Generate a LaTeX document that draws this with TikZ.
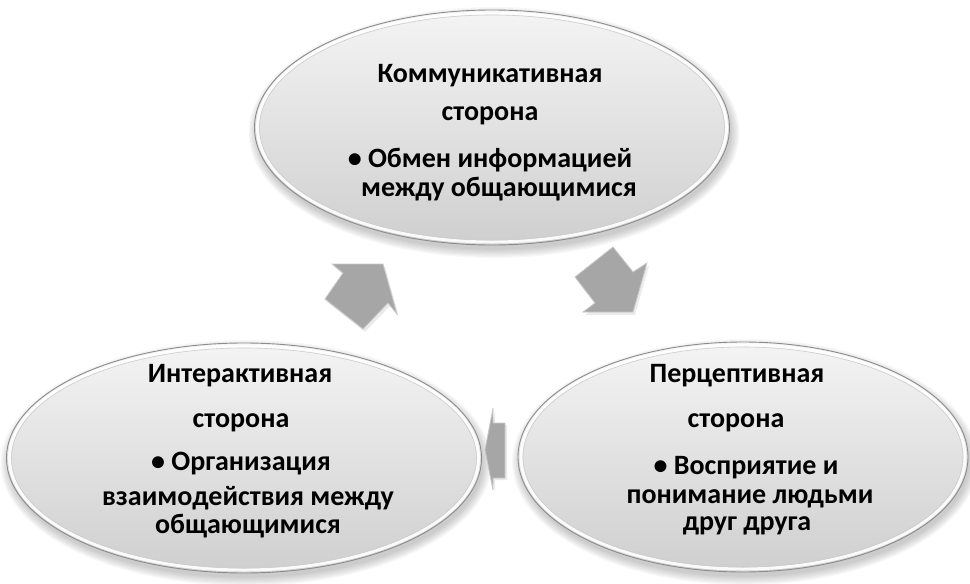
\documentclass[tikz,border=0pt]{standalone}
\usepackage{fontspec}
\setmainfont{Carlito}
\usetikzlibrary{shapes.geometric}
\definecolor{ellTop}{HTML}{F4F4F4}
\definecolor{ellMid}{HTML}{ECECEC}
\definecolor{ellBot}{HTML}{CFCFCF}
\definecolor{rimGray}{HTML}{8C8C8C}
\definecolor{innerGray}{HTML}{CDCDCD}
\definecolor{arrowFill}{HTML}{A6A6A6}
\definecolor{arrowEdge}{HTML}{C8C8C8}
\newcommand{\softshadow}[4]{%
  \foreach \k in {0,1,...,7}{%
    \fill[black, opacity=0.028] (#1+2,#2+5) ellipse [x radius={#3+8-\k*1.2}, y radius={-(#4+8-\k*1.2)}];
  }%
}
\newcommand{\bevel}[4]{%
  \draw[white, line width=3pt, opacity=0.9] (#1,#2) ellipse [x radius={#3-3}, y radius={-(#4-3)}];
  \draw[innerGray, line width=0.6pt] (#1,#2) ellipse [x radius={#3-5}, y radius={-(#4-5)}];
}
\begin{document}
\begin{tikzpicture}[x=1pt,y=-1pt,
  txt/.style={anchor=base, inner sep=0pt, text=black, font=\fontsize{28}{32}\selectfont\bfseries},
  ell/.style={ellipse, draw=rimGray, line width=0.9pt, top color=ellTop, middle color=ellMid, bottom color=ellBot, inner sep=0pt},
  blockarrow/.style={fill=arrowFill, draw=arrowEdge, line width=0.8pt, line join=miter},
  arrowshadow/.style={fill=black, opacity=0.08}
]
\useasboundingbox (0,0) rectangle (970,584);

% ---------- shadows of the ellipses ----------
\softshadow{492}{127.5}{237.5}{117.5}
\softshadow{244}{458}{237.5}{115}
\softshadow{743}{457}{225}{115}

% ---------- ellipses ----------
\node[ell, minimum width=475pt, minimum height=235pt] (top) at (492,127.5) {};
\bevel{492}{127.5}{237.5}{117.5}
\node[ell, minimum width=475pt, minimum height=230pt] (left) at (244,458) {};
\bevel{244}{458}{237.5}{115}
\node[ell, minimum width=450pt, minimum height=230pt] (right) at (743,457) {};
\bevel{743}{457}{225}{115}

% ---------- block arrows ----------
% left -> top (up-right)
\fill[arrowshadow] (385,267) -- (399,317) -- (390,306) -- (365,332) -- (327,302) -- (345,276) -- (334,267) -- cycle;
\draw[blockarrow] (383,264) -- (397,314) -- (388,303) -- (363,329) -- (325,299) -- (343,273) -- (332,264) -- cycle;
% top -> right (down-right)
\fill[arrowshadow] (615,250) -- (635,275) -- (649,266) -- (635,315) -- (585,315) -- (597,306) -- (577,280) -- cycle;
\draw[blockarrow] (613,247) -- (633,272) -- (647,263) -- (633,312) -- (583,312) -- (595,303) -- (575,277) -- cycle;
% right -> left (left)
\fill[arrowshadow] (487,452) -- (495,410) -- (495,425) -- (507,425) -- (507,480) -- (495,480) -- (495,492) -- cycle;
\draw[blockarrow] (485,450) -- (493,408) -- (493,423) -- (505,423) -- (505,478) -- (493,478) -- (493,490) -- cycle;

% ---------- texts ----------
\node[txt] (t1) at (490,82) {Коммуникативная};
\node[txt] (t2) at (490,120) {сторона};
\node[txt] (t3) at (490,167) {• Обмен информацией};
\node[txt] (t4) at (499,196) {между общающимися};

\node[txt] (l1) at (240,382) {Интерактивная};
\node[txt] (l2) at (241,427) {сторона};
\node[txt] (l3) at (241,470) {• Организация};
\node[txt] (l4) at (248,505) {взаимодействия между};
\node[txt] (l5) at (248,533) {общающимися};

\node[txt] (r1) at (737,382) {Перцептивная};
\node[txt] (r2) at (736,427) {сторона};
\node[txt] (r3) at (746,474) {• Восприятие и};
\node[txt] (r4) at (750,503) {понимание людьми};
\node[txt] (r5) at (747,530) {друг друга};
\end{tikzpicture}
\end{document}
